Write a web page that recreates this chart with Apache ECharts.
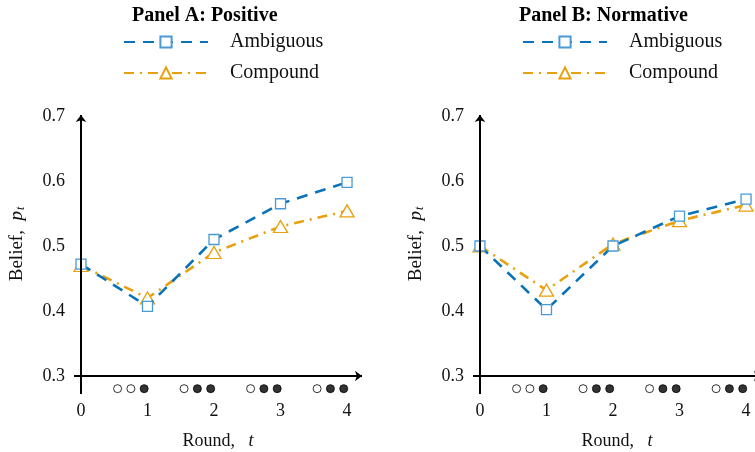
<!DOCTYPE html>
<html>
<head>
<meta charset="utf-8">
<script src="https://cdn.jsdelivr.net/npm/echarts@6/dist/echarts.min.js"></script>
<style>html,body{margin:0;padding:0;background:#fff;}#c{width:755px;height:452px;}</style>
</head>
<body>
<div id="c"></div>
<script>
const rounds = [0, 1, 2, 3, 4];
const ambiguousA = [0.472, 0.407, 0.510, 0.565, 0.598];
const compoundA = [0.470, 0.420, 0.490, 0.530, 0.554];
const ambiguousB = [0.500, 0.402, 0.500, 0.546, 0.572];
const compoundB = [0.500, 0.432, 0.503, 0.539, 0.563];
const xTicks = [0, 1, 2, 3, 4];
const yTicks = [0.3, 0.4, 0.5, 0.6, 0.7];
// sequence markers under the x axis (0 open, 1 filled)
const dotX = [0.55, 0.75, 0.95, 1.55, 1.75, 1.95, 2.55, 2.75, 2.95, 3.55, 3.75, 3.95];
const dotFilled = [0, 0, 1, 0, 1, 1, 0, 1, 1, 0, 1, 1];
const dotY = 0.2805;
const panelTitles = ['Panel A: Positive', 'Panel B: Normative'];
const seriesNames = ['Ambiguous', 'Compound'];

const FONT = 'Liberation Serif';
const BLUE = '#0a72b8';
const BLUE_M = '#4a9ad6';
const ORANGE = '#e8a00c';
const X_MIN = -0.105, X_MAX = 4.225, Y_MIN = 0.2723, Y_MAX = 0.7015;

const chart = echarts.init(document.getElementById('c'));
const grids = [
  {left: 74, top: 115, width: 288, height: 279, outerBoundsMode: 'none', containLabel: false},
  {left: 473, top: 115, width: 288, height: 279, outerBoundsMode: 'none', containLabel: false}
];
function xAx(i) {
  return {
    type: 'value', gridIndex: i, min: X_MIN, max: X_MAX,
    axisLine: {show: false}, axisTick: {show: false}, splitLine: {show: false},
    axisLabel: {customValues: xTicks, fontFamily: FONT, fontSize: 18, color: '#111', margin: 8,
      formatter: v => String(Math.round(v))},
    name: 'Round,   {i|t}', nameLocation: 'middle', nameGap: 38,
    nameTextStyle: {fontFamily: FONT, fontSize: 18, color: '#111',
      rich: {i: {fontFamily: FONT, fontStyle: 'italic', fontSize: 18, color: '#111'}}}
  };
}
function yAx(i) {
  return {
    type: 'value', gridIndex: i, min: Y_MIN, max: Y_MAX,
    axisLine: {show: false}, axisTick: {show: false}, splitLine: {show: false},
    axisLabel: {customValues: yTicks, fontFamily: FONT, fontSize: 18, color: '#111', margin: 9,
      formatter: v => v.toFixed(1)},
    name: 'Belief,  {i|p}{s|t}', nameLocation: 'middle', nameGap: 47,
    nameTextStyle: {fontFamily: FONT, fontSize: 19, color: '#111', padding: [0, 0, 0, 21],
      rich: {i: {fontFamily: FONT, fontStyle: 'italic', fontSize: 19, color: '#111'},
             s: {fontFamily: FONT, fontStyle: 'italic', fontSize: 12, color: '#111', padding: [8, 0, 0, 1]}}}
  };
}
function lineSeries(name, data, i) {
  const isA = name === 'Ambiguous';
  return {
    type: 'line', name: name, xAxisIndex: i, yAxisIndex: i,
    data: rounds.map((r, k) => [r, data[k]]),
    symbol: isA ? 'rect' : 'triangle',
    symbolSize: isA ? 10 : [14, 12],
    lineStyle: {color: isA ? BLUE : ORANGE, width: 2.6, type: isA ? [11, 8] : [10, 6, 2, 6]},
    itemStyle: {color: '#fff', borderColor: isA ? BLUE_M : ORANGE, borderWidth: 1.3},
    z: isA ? 4 : 3
  };
}
function axesSeries(i) {
  return {
    type: 'line', xAxisIndex: i, yAxisIndex: i, data: [], silent: true,
    markLine: {
      silent: true, symbol: ['none', 'arrow'], symbolSize: [8, 7], label: {show: false},
      lineStyle: {color: '#000', width: 2, type: 'solid'},
      data: [
        [{coord: [X_MIN, 0.3]}, {coord: [X_MAX, 0.3]}],
        [{coord: [0, Y_MIN]}, {coord: [0, Y_MAX]}]
      ]
    }
  };
}
function dotSeries(i, filled) {
  const pts = [];
  dotX.forEach((x, k) => { if (dotFilled[k] === filled) pts.push([x, dotY]); });
  return {
    type: 'scatter', xAxisIndex: i, yAxisIndex: i, data: pts, symbol: 'circle', symbolSize: 8,
    itemStyle: {color: filled ? '#000' : '#fff', borderColor: '#000', borderWidth: 1}, silent: true
  };
}
function legend(left) {
  return {
    left: left, top: 32, padding: 0, orient: 'vertical', itemWidth: 84, itemHeight: 14, itemGap: 11,
    data: seriesNames, selectedMode: false,
    textStyle: {fontFamily: FONT, fontSize: 20, color: '#111', padding: [0, 0, 0, 17]}
  };
}
chart.setOption({
  animation: false,
  title: [
    {text: panelTitles[0], left: 132, top: 6, padding: 0, textStyle: {fontFamily: FONT, fontSize: 20, fontWeight: 'bold', color: '#000'}},
    {text: panelTitles[1], left: 519, top: 6, padding: 0, textStyle: {fontFamily: FONT, fontSize: 20, fontWeight: 'bold', color: '#000'}}
  ],
  legend: [legend(123), legend(522)],
  grid: grids,
  xAxis: [xAx(0), xAx(1)],
  yAxis: [yAx(0), yAx(1)],
  series: [
    axesSeries(0), axesSeries(1),
    dotSeries(0, 0), dotSeries(0, 1), dotSeries(1, 0), dotSeries(1, 1),
    lineSeries('Compound', compoundA, 0), lineSeries('Ambiguous', ambiguousA, 0),
    lineSeries('Compound', compoundB, 1), lineSeries('Ambiguous', ambiguousB, 1)
  ]
});
</script>
</body>
</html>
